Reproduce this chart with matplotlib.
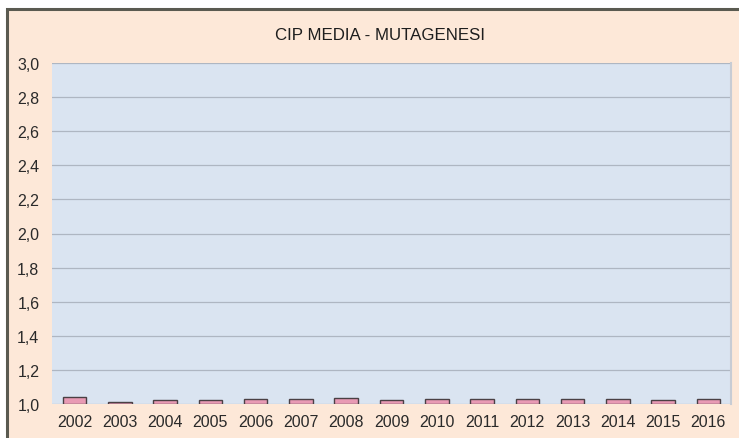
import matplotlib
matplotlib.use("Agg")
import matplotlib.pyplot as plt
from matplotlib.patches import Rectangle
import numpy as np

years = ["2002", "2003", "2004", "2005", "2006", "2007", "2008", "2009",
         "2010", "2011", "2012", "2013", "2014", "2015", "2016"]
cip_media = [1.04, 1.01, 1.025, 1.025, 1.03, 1.03, 1.035, 1.025,
             1.03, 1.03, 1.03, 1.03, 1.03, 1.025, 1.03]
yticks = [1.0, 1.2, 1.4, 1.6, 1.8, 2.0, 2.2, 2.4, 2.6, 2.8, 3.0]

plt.rcParams['font.family'] = ['Liberation Sans', 'DejaVu Sans']

fig = plt.figure(figsize=(7.39, 4.39), dpi=100)
fig.patch.set_facecolor("white")

# peach frame with dark border
frame = Rectangle((7 / 739, -0.01), 1.0, 1 - 10 / 439 + 0.01,
                  transform=fig.transFigure, facecolor="#FDE8D8",
                  edgecolor="#5a5a50", linewidth=2.2, zorder=-10)
fig.patches.append(frame)

ax = fig.add_axes([52 / 739, 1 - 405 / 439, (731 - 52) / 739, (405 - 64) / 439])
ax.set_zorder(1)
ax.set_facecolor("#DAE4F1")

x = np.arange(len(years))
base = 1.0
ax.bar(x, np.array(cip_media) - base, bottom=base, width=0.52,
       color="#E89AB4", edgecolor="#4a4044", linewidth=1.0, zorder=3)

ax.set_xlim(-0.5, len(years) - 0.5)
ax.set_ylim(1.0, 3.0)
ax.set_yticks(yticks)
ax.set_yticklabels([f"{v:.1f}".replace(".", ",") for v in yticks])
ax.set_xticks(x)
ax.set_xticklabels(years)
ax.grid(axis="y", color="#AEB6C2", linewidth=0.9, zorder=1)
ax.set_axisbelow(True)
ax.tick_params(length=0, labelsize=11.5, colors="#2a2a2a", pad=7)
ax.tick_params(axis="y", pad=9)
for s in ["top", "left", "bottom"]:
    ax.spines[s].set_visible(False)
ax.spines["right"].set_color("#C8CCD4")
ax.spines["right"].set_linewidth(1.5)

fig.text(380 / 739, 1 - 35 / 439, "CIP MEDIA - MUTAGENESI", ha="center",
         va="center", fontsize=12.2, color="#1e1e1e")

fig.savefig("out.png", dpi=100)
